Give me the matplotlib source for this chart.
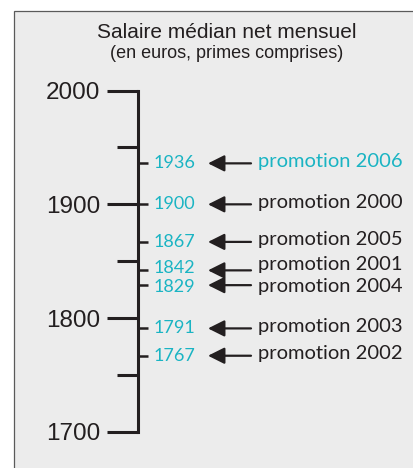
import matplotlib
matplotlib.use('Agg')
import matplotlib.pyplot as plt
from matplotlib.patches import Rectangle

# Salaire median net mensuel par promotion (en euros)
salaries = [1936, 1900, 1867, 1842, 1829, 1791, 1767]
promotions = ['promotion 2006', 'promotion 2000', 'promotion 2005',
              'promotion 2001', 'promotion 2004', 'promotion 2003',
              'promotion 2002']
highlight = 'promotion 2006'
major_ticks = [1700, 1800, 1900, 2000]
minor_ticks = [1750, 1850, 1950]

cyan = '#1ab4c3'
dark = '#231f20'
W, H = 414, 468

# small vertical nudges (points) so the two close labels don't collide
nudge = {'promotion 2001': 2.5, 'promotion 2004': -2.5}

fig = plt.figure(figsize=(W / 100, H / 100), dpi=100)
fig.patch.set_facecolor('white')

# grey frame
frame = Rectangle((14 / W, -0.05), 1.2, (H - 11) / H + 0.05,
                  transform=fig.transFigure, facecolor='#ececec',
                  edgecolor='#5a5a5a', linewidth=0.9, zorder=0)
fig.add_artist(frame)

fig.text(227 / W, 1 - 33 / H, 'Salaire médian net mensuel',
         ha='center', va='center', fontsize=15, family='Liberation Sans',
         color=dark)
fig.text(227 / W, 1 - 53 / H, '(en euros, primes comprises)',
         ha='center', va='center', fontsize=13, family='Liberation Sans',
         color=dark)

# axes: left spine is the vertical scale
x0, top, bot = 138, 90.5, 432
ax = fig.add_axes([x0 / W, (H - bot) / H, (W - x0) / W, (bot - top) / H])
ax.set_facecolor('none')
ax.set_ylim(1700, 2000)
ax.set_xlim(0, W - x0)
for s in ['top', 'right', 'bottom']:
    ax.spines[s].set_visible(False)
ax.spines['left'].set_linewidth(2.2)
ax.spines['left'].set_color(dark)
ax.set_xticks([])
ax.set_yticks(major_ticks)
ax.set_yticks(minor_ticks, minor=True)
ax.tick_params(axis='y', which='major', length=22, width=2.2, color=dark,
               pad=5, labelsize=17.5, labelcolor=dark)
ax.tick_params(axis='y', which='minor', length=15, width=2.2, color=dark)
for lab in ax.get_yticklabels():
    lab.set_family('Liberation Sans')

for val, name in zip(salaries, promotions):
    dy = nudge.get(name, 0)
    ax.plot([1, 10], [val, val], color=dark, lw=1.8, solid_capstyle='butt',
            clip_on=False)
    ax.annotate(str(val), xy=(16, val), xytext=(0, dy * 0.6),
                textcoords='offset points', color=cyan, fontsize=13,
                family='Lato', ha='left', va='center')
    ax.annotate('', xy=(70, val), xytext=(113, val),
                arrowprops=dict(arrowstyle='-|>,head_length=0.5,head_width=0.25',
                                mutation_scale=20, lw=1.6, color=dark,
                                shrinkA=0, shrinkB=0))
    ax.annotate(name, xy=(120, val), xytext=(0, dy + 1.5),
                textcoords='offset points',
                color=cyan if name == highlight else dark,
                fontsize=14.5, family='Lato', ha='left', va='center')

fig.savefig('out.png', dpi=100)
